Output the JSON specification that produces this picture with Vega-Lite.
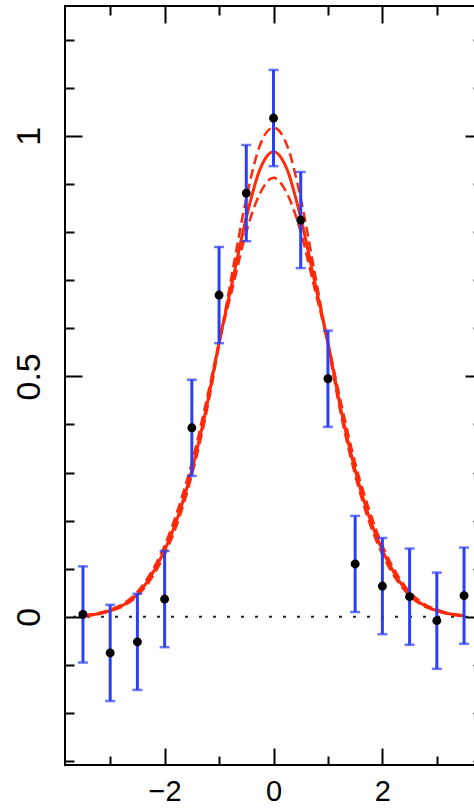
{
  "$schema": "https://vega.github.io/schema/vega-lite/v6.json",
  "width": 417,
  "height": 759,
  "autosize": {"type": "none"},
  "padding": {"left": 65, "top": 6, "right": 0, "bottom": 46},
  "background": "white",
  "config": {
    "view": {"stroke": "black", "strokeWidth": 2},
    "axis": {"domain": false, "grid": false, "labelFont": "Liberation Sans", "labelColor": "black", "tickColor": "black", "tickWidth": 2, "title": null}
  },
  "datasets": {
    "pts": [
      {"x": -3.5, "y": 0.005, "lo": -0.095, "hi": 0.105},
      {"x": -3.0, "y": -0.075, "lo": -0.175, "hi": 0.025},
      {"x": -2.5, "y": -0.052, "lo": -0.152, "hi": 0.048},
      {"x": -2.0, "y": 0.037, "lo": -0.063, "hi": 0.137},
      {"x": -1.5, "y": 0.393, "lo": 0.293, "hi": 0.493},
      {"x": -1.0, "y": 0.669, "lo": 0.569, "hi": 0.769},
      {"x": -0.5, "y": 0.881, "lo": 0.781, "hi": 0.981},
      {"x": 0.0, "y": 1.037, "lo": 0.937, "hi": 1.137},
      {"x": 0.5, "y": 0.825, "lo": 0.725, "hi": 0.925},
      {"x": 1.0, "y": 0.495, "lo": 0.395, "hi": 0.595},
      {"x": 1.5, "y": 0.11, "lo": 0.01, "hi": 0.21},
      {"x": 2.0, "y": 0.064, "lo": -0.036, "hi": 0.164},
      {"x": 2.5, "y": 0.042, "lo": -0.058, "hi": 0.142},
      {"x": 3.0, "y": -0.008, "lo": -0.108, "hi": 0.092},
      {"x": 3.5, "y": 0.044, "lo": -0.056, "hi": 0.144}
    ],
    "curve": [
      {"x": -3.5, "fit": 0.002, "up": 0.002, "dn": 0.003},
      {"x": -3.25, "fit": 0.006, "up": 0.005, "dn": 0.007},
      {"x": -3.0, "fit": 0.013, "up": 0.012, "dn": 0.015},
      {"x": -2.75, "fit": 0.025, "up": 0.023, "dn": 0.028},
      {"x": -2.5, "fit": 0.047, "up": 0.044, "dn": 0.052},
      {"x": -2.25, "fit": 0.085, "up": 0.079, "dn": 0.092},
      {"x": -2.0, "fit": 0.138, "up": 0.13, "dn": 0.148},
      {"x": -1.75, "fit": 0.21, "up": 0.2, "dn": 0.225},
      {"x": -1.5, "fit": 0.305, "up": 0.295, "dn": 0.32},
      {"x": -1.25, "fit": 0.425, "up": 0.415, "dn": 0.44},
      {"x": -1.0, "fit": 0.57, "up": 0.565, "dn": 0.57},
      {"x": -0.75, "fit": 0.7, "up": 0.72, "dn": 0.685},
      {"x": -0.5, "fit": 0.83, "up": 0.87, "dn": 0.8},
      {"x": -0.25, "fit": 0.93, "up": 0.98, "dn": 0.88},
      {"x": 0.0, "fit": 0.967, "up": 1.017, "dn": 0.913},
      {"x": 0.25, "fit": 0.93, "up": 0.98, "dn": 0.88},
      {"x": 0.5, "fit": 0.83, "up": 0.87, "dn": 0.8},
      {"x": 0.75, "fit": 0.7, "up": 0.72, "dn": 0.685},
      {"x": 1.0, "fit": 0.57, "up": 0.565, "dn": 0.57},
      {"x": 1.25, "fit": 0.425, "up": 0.415, "dn": 0.44},
      {"x": 1.5, "fit": 0.305, "up": 0.295, "dn": 0.32},
      {"x": 1.75, "fit": 0.21, "up": 0.2, "dn": 0.225},
      {"x": 2.0, "fit": 0.138, "up": 0.13, "dn": 0.148},
      {"x": 2.25, "fit": 0.085, "up": 0.079, "dn": 0.092},
      {"x": 2.5, "fit": 0.047, "up": 0.044, "dn": 0.052},
      {"x": 2.75, "fit": 0.025, "up": 0.023, "dn": 0.028},
      {"x": 3.0, "fit": 0.013, "up": 0.012, "dn": 0.015},
      {"x": 3.25, "fit": 0.006, "up": 0.005, "dn": 0.007},
      {"x": 3.5, "fit": 0.002, "up": 0.002, "dn": 0.003}
    ]
  },
  "layer": [
    {
      "data": {"values": [{"zero": 0}]},
      "mark": {"type": "rule", "color": "#222222", "strokeWidth": 2, "strokeDash": [3, 11]},
      "encoding": {
        "y": {"field": "zero", "type": "quantitative", "axis": null, "scale": {"domain": [-0.308, 1.27], "nice": false, "zero": false}}
      }
    },
    {
      "data": {"name": "curve"},
      "mark": {"type": "line", "color": "#ff2a0a", "strokeWidth": 3, "interpolate": "monotone"},
      "encoding": {
        "x": {"field": "x", "type": "quantitative",
          "scale": {"domain": [-3.83, 3.83], "nice": false, "zero": false},
          "axis": {"orient": "bottom", "values": [-2, 0, 2], "offset": -17, "tickSize": 17,
            "labelFontSize": 29, "labelPadding": 12, "labelBaseline": "top", "labelAlign": "center"}},
        "y": {"field": "fit", "type": "quantitative",
          "scale": {"domain": [-0.308, 1.27], "nice": false, "zero": false},
          "axis": {"orient": "left", "values": [0, 0.5, 1], "offset": -17, "tickSize": 17,
            "labelExpr": "datum.value == 0 ? '0' : datum.value == 0.5 ? '0.5' : '1'",
            "labelAngle": -90, "labelAlign": "center", "labelBaseline": "bottom",
            "labelFontSize": 34, "labelPadding": 19}}
      }
    },
    {
      "data": {"name": "curve"},
      "mark": {"type": "line", "color": "#ff2a0a", "strokeWidth": 2.5, "strokeDash": [10, 5], "interpolate": "monotone"},
      "encoding": {
        "x": {"field": "x", "type": "quantitative",
          "axis": {"orient": "bottom", "values": [-3, -1, 1, 3], "offset": -9, "tickSize": 9, "labels": false}},
        "y": {"field": "up", "type": "quantitative",
          "axis": {"orient": "left", "values": [-0.3, -0.2, -0.1, 0.1, 0.2, 0.3, 0.4, 0.6, 0.7, 0.8, 0.9, 1.1, 1.2], "offset": -9, "tickSize": 9, "labels": false}}
      }
    },
    {
      "data": {"name": "curve"},
      "mark": {"type": "line", "color": "#ff2a0a", "strokeWidth": 2.5, "strokeDash": [10, 5], "interpolate": "monotone"},
      "encoding": {
        "x": {"field": "x", "type": "quantitative",
          "axis": {"orient": "top", "values": [-2, 0, 2], "offset": -17, "tickSize": 17, "labels": false}},
        "y": {"field": "dn", "type": "quantitative",
          "axis": {"orient": "right", "values": [0, 0.5, 1], "offset": -17, "tickSize": 17, "labels": false}}
      }
    },
    {
      "data": {"name": "pts"},
      "mark": {"type": "errorbar", "color": "#2b3ff5", "ticks": {"size": 10, "thickness": 2.5, "color": "#2b3ff5"}, "rule": {"strokeWidth": 3, "color": "#2b3ff5"}},
      "encoding": {
        "x": {"field": "x", "type": "quantitative", "axis": null},
        "y": {"field": "lo", "type": "quantitative", "axis": null},
        "y2": {"field": "hi"}
      }
    },
    {
      "data": {"name": "pts"},
      "mark": {"type": "circle", "color": "black", "opacity": 1, "size": 80},
      "encoding": {
        "x": {"field": "x", "type": "quantitative",
          "axis": {"orient": "top", "values": [-3, -1, 1, 3], "offset": -9, "tickSize": 9, "labels": false}},
        "y": {"field": "y", "type": "quantitative",
          "axis": {"orient": "right", "values": [-0.3, -0.2, -0.1, 0.1, 0.2, 0.3, 0.4, 0.6, 0.7, 0.8, 0.9, 1.1, 1.2], "offset": -9, "tickSize": 9, "labels": false}}
      }
    }
  ],
  "resolve": {"axis": {"x": "independent", "y": "independent"}}
}
